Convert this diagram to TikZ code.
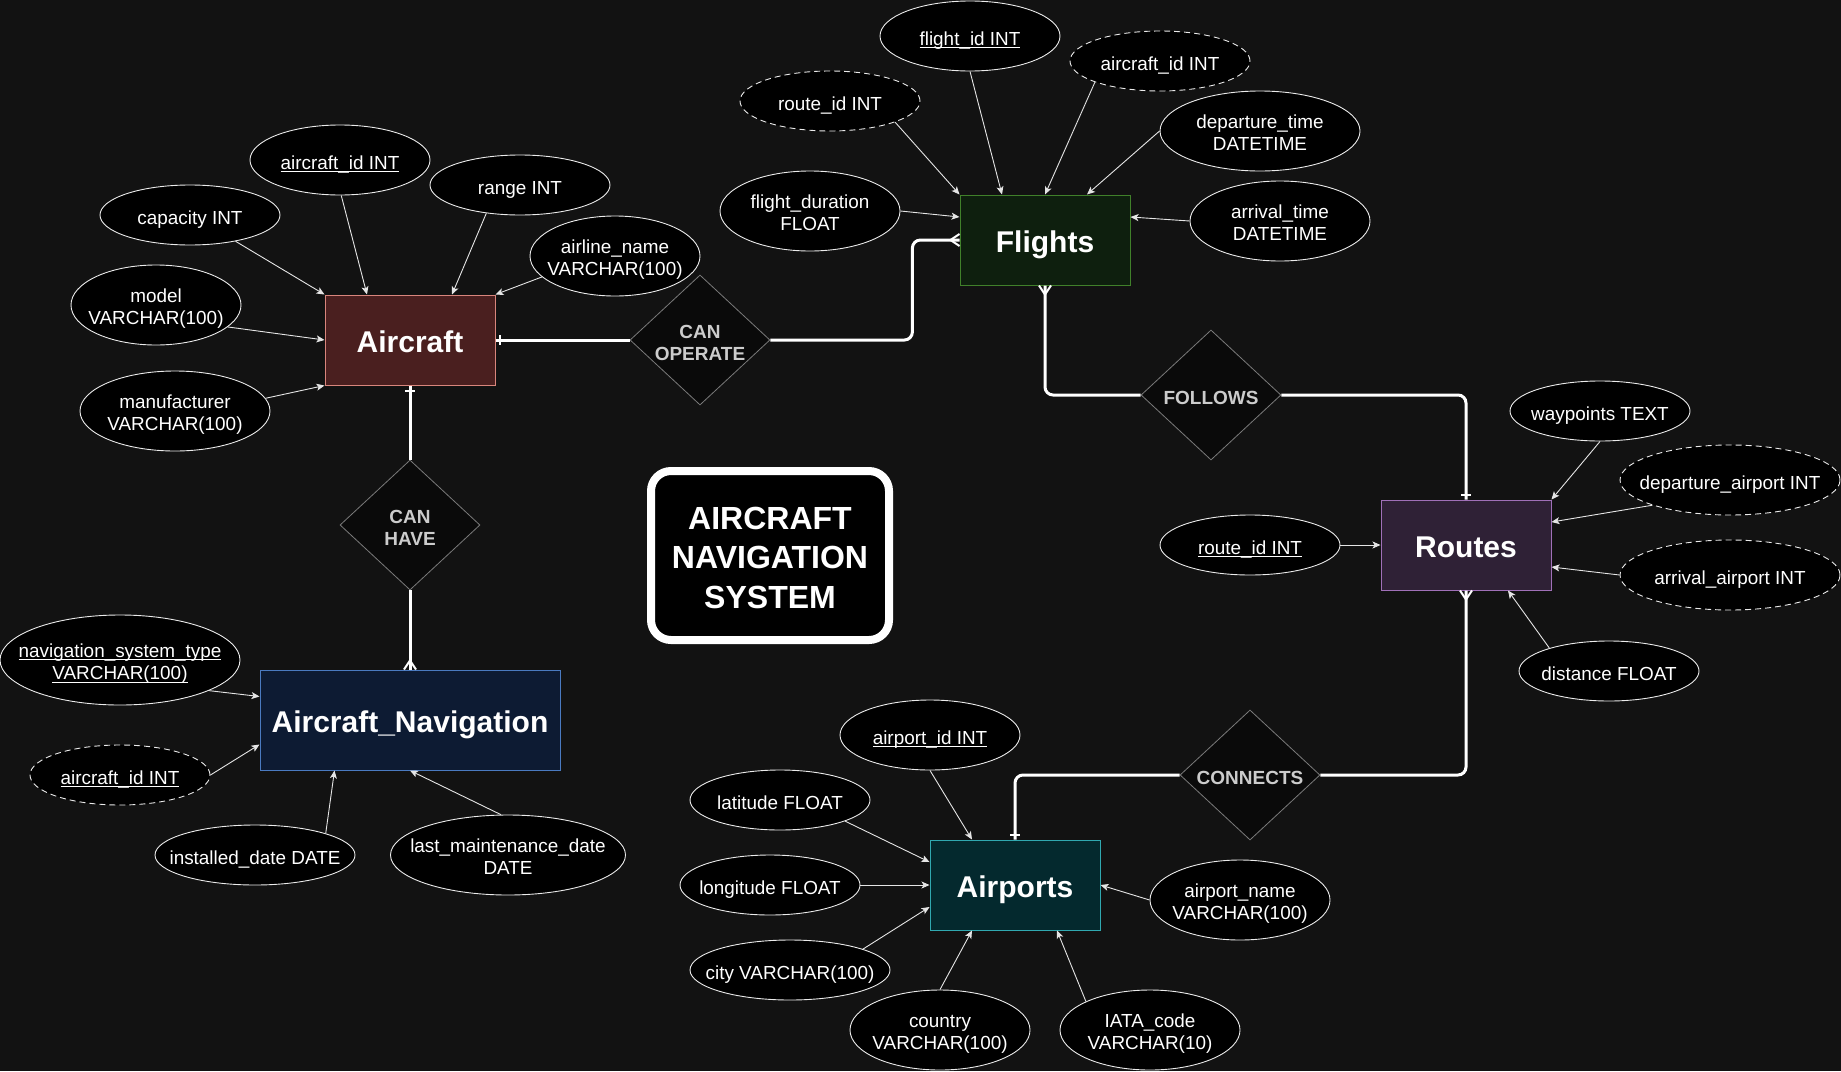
\documentclass[tikz,border=0pt]{standalone}
\usepackage{fontspec}
\setmainfont{Liberation Sans}
\usetikzlibrary{arrows.meta,shapes.geometric,calc}
\definecolor{bg}{HTML}{121212}
\definecolor{acfill}{HTML}{4A1F1F}\definecolor{acdraw}{HTML}{D9857C}
\definecolor{flfill}{HTML}{0E1F0E}\definecolor{fldraw}{HTML}{40802A}
\definecolor{rtfill}{HTML}{2F2136}\definecolor{rtdraw}{HTML}{A070B8}
\definecolor{nvfill}{HTML}{0D1B33}\definecolor{nvdraw}{HTML}{4A7AC0}
\definecolor{apfill}{HTML}{04292E}\definecolor{apdraw}{HTML}{30A8B0}
\definecolor{relfill}{HTML}{0A0A0A}\definecolor{reldraw}{HTML}{7A7A7A}
\definecolor{reltext}{HTML}{CCCCCC}
\newcommand\ulx[1]{\setbox0\hbox{#1}\rlap{\rule[-3pt]{\wd0}{1pt}}#1}
% struts
\newcommand\sxa{\rule[-0.21em]{0pt}{1.42em}}% single-line attribute
\newcommand\sxf{\rule{0pt}{1.1em}}% first line of a multi-line attribute
\newcommand\sxl{\rule[-0.21em]{0pt}{0.21em}}% last line of a multi-line attribute
\newcommand\sxr{\rule[-0.05em]{0pt}{1.06em}}% relationship
\newcommand\sxe{\rule[-0.21em]{0pt}{1.28em}}% entity
\newcommand\sxt{\rule[-0.05em]{0pt}{0.93em}}% title
\begin{document}
\begin{tikzpicture}[x=1pt,y=-1pt,
  ent/.style={draw, line width=1pt, minimum width=170pt, minimum height=90pt, inner sep=0pt,
    text=white, font=\fontsize{30}{36}\selectfont\bfseries},
  attr/.style={ellipse, draw=white!92!black, line width=0.9pt, fill=black, text=white,
    inner sep=-30pt, align=center, font=\fontsize{18.9}{22.7}\selectfont},
  fkattr/.style={attr, dash pattern=on 6pt off 4pt},
  relbox/.style={diamond, draw=reldraw, line width=0.8pt, fill=relfill, text=reltext,
    inner sep=-20pt, minimum width=140pt, minimum height=130pt, align=center,
    font=\fontsize{19}{22}\selectfont\bfseries},
  con/.style={draw=white!90!black, line width=0.9pt, -{Stealth[length=8pt,width=7pt,inset=2pt]}},
  link/.style={draw=white, line width=3pt, rounded corners=8pt},
  markline/.style={draw=white, line width=2pt}
]
\useasboundingbox[fill=bg] (0,0) rectangle (1841,1071);

% entities
\node[ent, fill=acfill, draw=acdraw] (ac) at (410,340) {\sxe Aircraft};
\node[ent, fill=flfill, draw=fldraw] (fl) at (1045,240) {\sxe Flights};
\node[ent, fill=rtfill, draw=rtdraw] (rt) at (1466,545) {\sxe Routes};
\node[ent, fill=nvfill, draw=nvdraw, minimum width=300pt, minimum height=100pt] (nav) at (410,720) {\sxe Aircraft\_Navigation};
\node[ent, fill=apfill, draw=apdraw] (ap) at (1015,885) {\sxe Airports};

% relationships
\node[relbox] (canop) at (700,340) {\sxr CAN\\OPERATE\sxr};
\node[relbox] (canhave) at (410,525) {\sxr CAN\\HAVE\sxr};
\node[relbox] (follows) at (1211,395) {\sxr FOLLOWS};
\node[relbox] (connects) at (1250,775) {\sxr CONNECTS};

% title
\node[draw=white, line width=8pt, rounded corners=20pt, fill=black, minimum width=238pt,
  minimum height=169pt, text=white, align=center, inner sep=0pt,
  font=\fontsize{32}{39.5}\selectfont\bfseries] (title) at (770,555.5) {\sxt AIRCRAFT\\NAVIGATION\\SYSTEM\sxt};

% Aircraft attributes
\node[attr, minimum width=180pt, minimum height=70pt] (a1) at (340,160) {\sxa\ulx{aircraft\_id INT}};
\node[attr, minimum width=180pt, minimum height=60pt] (a2) at (520,185) {\sxa range INT};
\node[attr, minimum width=180pt, minimum height=60pt] (a3) at (190,215) {\sxa capacity INT};
\node[attr, minimum width=170pt, minimum height=80pt] (a4) at (615,256) {\sxf airline\_name\\VARCHAR(100)\sxl};
\node[attr, minimum width=170pt, minimum height=80pt] (a5) at (156,305) {\sxf model\\VARCHAR(100)\sxl};
\node[attr, minimum width=190pt, minimum height=80pt] (a6) at (175,411) {\sxf manufacturer\\VARCHAR(100)\sxl};

% Flights attributes
\node[attr, minimum width=180pt, minimum height=70pt] (f1) at (970,36) {\sxa\ulx{flight\_id INT}};
\node[fkattr, minimum width=180pt, minimum height=60pt] (f2) at (1160,61) {\sxa aircraft\_id INT};
\node[fkattr, minimum width=180pt, minimum height=60pt] (f3) at (830,101) {\sxa route\_id INT};
\node[attr, minimum width=200pt, minimum height=80pt] (f4) at (1260,131) {\sxf departure\_time\\DATETIME\sxl};
\node[attr, minimum width=180pt, minimum height=80pt] (f5) at (810,211) {\sxf flight\_duration\\FLOAT\sxl};
\node[attr, minimum width=180pt, minimum height=80pt] (f6) at (1280,221) {\sxf arrival\_time\\DATETIME\sxl};

% Routes attributes
\node[attr, minimum width=180pt, minimum height=60pt] (r1) at (1600,411) {\sxa waypoints TEXT};
\node[fkattr, minimum width=220pt, minimum height=70pt] (r2) at (1730,480) {\sxa departure\_airport INT};
\node[fkattr, minimum width=220pt, minimum height=70pt] (r3) at (1730,575) {\sxa arrival\_airport INT};
\node[attr, minimum width=180pt, minimum height=60pt] (r4) at (1250,545) {\sxa\ulx{route\_id INT}};
\node[attr, minimum width=180pt, minimum height=60pt] (r5) at (1609,671) {\sxa distance FLOAT};

% Aircraft_Navigation attributes
\node[attr, minimum width=240pt, minimum height=90pt] (n1) at (120,660) {\sxf\ulx{navigation\_system\_type}\\\ulx{VARCHAR(100)}\sxl};
\node[fkattr, minimum width=180pt, minimum height=60pt] (n2) at (120,775) {\sxa\ulx{aircraft\_id INT}};
\node[attr, minimum width=200pt, minimum height=60pt] (n3) at (255,855) {\sxa installed\_date DATE};
\node[attr, minimum width=235pt, minimum height=80pt] (n4) at (508,855) {\sxf last\_maintenance\_date\\DATE\sxl};

% Airports attributes
\node[attr, minimum width=180pt, minimum height=70pt] (p1) at (930,735) {\sxa\ulx{airport\_id INT}};
\node[attr, minimum width=180pt, minimum height=60pt] (p2) at (780,800) {\sxa latitude FLOAT};
\node[attr, minimum width=180pt, minimum height=60pt] (p3) at (770,885) {\sxa longitude FLOAT};
\node[attr, minimum width=200pt, minimum height=60pt] (p4) at (790,970) {\sxa city VARCHAR(100)};
\node[attr, minimum width=180pt, minimum height=80pt] (p5) at (940,1030) {\sxf country\\VARCHAR(100)\sxl};
\node[attr, minimum width=180pt, minimum height=80pt] (p6) at (1150,1030) {\sxf IATA\_code\\VARCHAR(10)\sxl};
\node[attr, minimum width=180pt, minimum height=80pt] (p7) at (1240,900) {\sxf airport\_name\\VARCHAR(100)\sxl};

% attribute connectors
\draw[con] (a1.-88) -- ($(ac.north west)+(42.5,0)$);
\draw[con] (a2.-140) -- ($(ac.north west)+(127.5,0)$);
\draw[con] (a3.-30) -- (ac.north west);
\draw[con] (a4.-164) -- (ac.north east);
\draw[con] (a5.-17) -- (ac.west);
\draw[con] (a6.8) -- (ac.south west);

\draw[con] (f1.south) -- ($(fl.north west)+(42.5,0)$);
\draw[con] (f2.-162) -- (fl.north);
\draw[con] (f3.-18) -- (fl.north west);
\draw[con] (f4.west) -- ($(fl.north west)+(127.5,0)$);
\draw[con] (f5.east) -- ($(fl.north west)+(0,22.5)$);
\draw[con] (f6.west) -- ($(fl.north east)+(0,22.5)$);

\draw[con] (r1.south) -- (rt.north east);
\draw[con] (r2.-162) -- ($(rt.north east)+(0,22.5)$);
\draw[con] (r3.west) -- ($(rt.north east)+(0,67.5)$);
\draw[con] (r4.east) -- (rt.west);
\draw[con] (r5.159) -- ($(rt.south west)+(127.5,0)$);

\draw[con] (n1.-19) -- ($(nav.north west)+(0,27)$);
\draw[con] (n2.east) -- ($(nav.north west)+(0,75)$);
\draw[con] (n3.17) -- ($(nav.south west)+(75,0)$);
\draw[con] (n4.100) -- (nav.south);

\draw[con] (p1.south) -- ($(ap.north west)+(42.5,0)$);
\draw[con] (p2.-18) -- ($(ap.north west)+(0,22.5)$);
\draw[con] (p3.east) -- (ap.west);
\draw[con] (p4.16) -- ($(ap.north west)+(0,67.5)$);
\draw[con] (p5.north) -- ($(ap.south west)+(42.5,0)$);
\draw[con] (p6.156) -- ($(ap.south west)+(127.5,0)$);
\draw[con] (p7.west) -- (ap.east);

% relationship links
\draw[link] (ac.east) -- (canop.west);
\draw[link] (canop.east) -- ++(142,0) |- (fl.west);
\draw[link] (ac.south) -- (canhave.north);
\draw[link] (canhave.south) -- (nav.north);
\draw[link] (fl.south) |- (follows.west);
\draw[link] (follows.east) -| (rt.north);
\draw[link] (rt.south) |- (connects.east);
\draw[link] (connects.west) -| (ap.north);

% cardinality marks
\draw[markline] ($(ac.east)+(4,-5)$) -- ($(ac.east)+(4,5)$);
\draw[markline] ($(ac.south)+(-5,5)$) -- ($(ac.south)+(5,5)$);
\draw[markline] ($(rt.north)+(-5,-5)$) -- ($(rt.north)+(5,-5)$);
\draw[markline] ($(ap.north)+(-5,-5)$) -- ($(ap.north)+(5,-5)$);
\draw[markline] ($(fl.west)+(0,-6)$) -- ($(fl.west)+(-9,0)$) -- ($(fl.west)+(0,6)$);
\draw[markline] ($(nav.north)+(-6,0)$) -- ($(nav.north)+(0,-9)$) -- ($(nav.north)+(6,0)$);
\draw[markline] ($(fl.south)+(-6,0)$) -- ($(fl.south)+(0,9)$) -- ($(fl.south)+(6,0)$);
\draw[markline] ($(rt.south)+(-6,0)$) -- ($(rt.south)+(0,9)$) -- ($(rt.south)+(6,0)$);
\end{tikzpicture}
\end{document}
